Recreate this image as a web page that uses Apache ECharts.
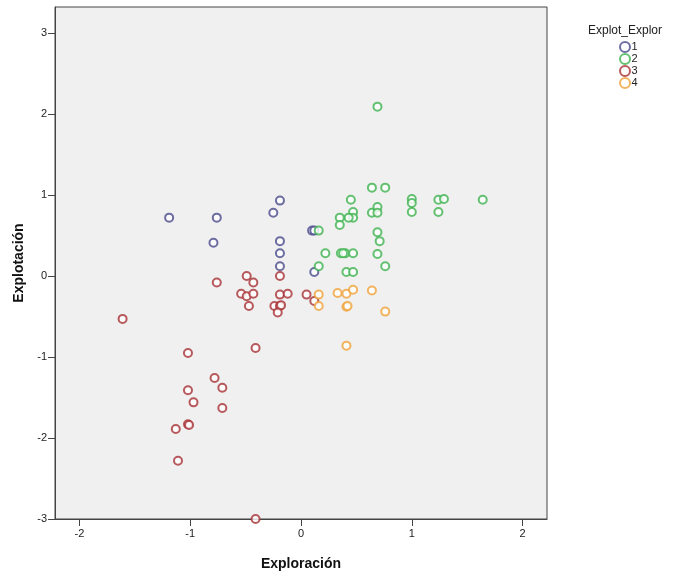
<!DOCTYPE html>
<html>
<head>
<meta charset="utf-8">
<script src="https://cdn.jsdelivr.net/npm/echarts@6/dist/echarts.min.js"></script>
<style>
  html, body { margin: 0; padding: 0; background: #fff; }
  #chart { width: 683px; height: 577px; }
</style>
</head>
<body>
<div id="chart"></div>
<script>
// [Exploración, Explotación] per cluster
const cluster1 = [
  [-1.19, 0.72], [-0.76, 0.72], [-0.79, 0.41], [-0.19, 0.93], [-0.25, 0.78],
  [-0.19, 0.43], [-0.19, 0.28], [-0.19, 0.12], [0.10, 0.56], [0.12, 0.56],
  [0.12, 0.05]
]
const cluster2 = [
  [0.16, 0.56], [0.22, 0.28], [0.16, 0.12], [0.69, 0.54], [0.71, 0.43],
  [0.36, 0.28], [0.40, 0.28], [0.47, 0.28], [0.69, 0.27], [0.76, 0.12],
  [0.41, 0.05], [0.47, 0.05], [0.69, 2.09], [0.64, 1.09], [0.76, 1.09],
  [0.45, 0.94], [1.00, 0.95], [1.00, 0.90], [1.00, 0.79], [1.24, 0.94],
  [1.29, 0.95], [1.24, 0.79], [1.64, 0.94], [0.47, 0.79], [0.47, 0.72],
  [0.43, 0.72], [0.35, 0.72], [0.35, 0.63], [0.64, 0.78], [0.69, 0.85],
  [0.69, 0.78], [0.38, 0.28]
]
const cluster3 = [
  [-0.49, 0.00], [-0.43, -0.08], [-0.76, -0.08], [-0.54, -0.22], [-0.49, -0.25],
  [-0.43, -0.22], [-0.47, -0.37], [-0.19, 0.00], [-0.19, -0.23], [-0.12, -0.22],
  [-0.24, -0.37], [-0.19, -0.37], [-0.18, -0.36], [-0.21, -0.45], [0.05, -0.23],
  [0.12, -0.31], [-1.61, -0.53], [-1.02, -0.95], [-0.41, -0.89], [-0.78, -1.26],
  [-0.71, -1.38], [-1.02, -1.41], [-0.97, -1.56], [-0.71, -1.63], [-1.02, -1.83],
  [-1.01, -1.84], [-1.13, -1.89], [-1.11, -2.28], [-0.41, -3.00]
]
const cluster4 = [
  [0.16, -0.23], [0.16, -0.37], [0.33, -0.21], [0.41, -0.22], [0.47, -0.17],
  [0.64, -0.18], [0.41, -0.38], [0.42, -0.37], [0.76, -0.44], [0.41, -0.86]
]

const clusterNames = ['1', '2', '3', '4']
const clusterColors = ['#4a4a8c', '#3fb34f', '#a83236', '#f0a33a']
const xTicks = [-2, -1, 0, 1, 2]
const yTicks = [-3, -2, -1, 0, 1, 2, 3]

const chart = echarts.init(document.getElementById('chart'))

const tickLabel = { color: '#222', fontSize: 11, fontFamily: 'Liberation Sans, Arial, sans-serif' }
const axisName = { color: '#111', fontSize: 14, fontWeight: 'bold', fontFamily: 'Liberation Sans, Arial, sans-serif' }

const series = [cluster1, cluster2, cluster3, cluster4].map((d, i) => ({
  name: clusterNames[i],
  type: 'scatter',
  data: d,
  symbol: 'emptyCircle',
  symbolSize: 8,
  itemStyle: { color: clusterColors[i], borderColor: clusterColors[i], borderWidth: 1.4 },
  clip: false
}))

chart.setOption({
  animation: false,
  title: {
    text: 'Explot_Explor',
    left: 583,
    top: 20,
    textStyle: { color: '#222', fontSize: 12, fontWeight: 'normal', fontFamily: 'Liberation Sans, Arial, sans-serif' }
  },
  legend: {
    orient: 'vertical',
    left: 619,
    top: 41,
    padding: 0,
    itemWidth: 11,
    itemHeight: 10,
    itemGap: 0,
    textStyle: { color: '#222', fontSize: 11, lineHeight: 10, padding: [0, 0, 0, -4], fontFamily: 'Liberation Sans, Arial, sans-serif' },
    data: clusterNames
  },
  grid: {
    left: 55,
    right: 136,
    top: 7,
    bottom: 58,
    show: true,
    backgroundColor: '#f0f0f0',
    borderColor: '#444',
    borderWidth: 1
  },
  xAxis: {
    type: 'value',
    min: -2.22,
    max: 2.22,
    name: 'Exploración',
    nameLocation: 'middle',
    nameGap: 38,
    nameTextStyle: axisName,
    axisLine: { show: true, onZero: false, lineStyle: { color: '#444' } },
    axisTick: { show: true, length: 7, customValues: xTicks, lineStyle: { color: '#444' } },
    axisLabel: Object.assign({ customValues: xTicks, margin: 9 }, tickLabel),
    splitLine: { show: false }
  },
  yAxis: {
    type: 'value',
    min: -3,
    max: 3.32,
    name: 'Explotación',
    nameLocation: 'middle',
    nameGap: 28,
    nameRotate: 90,
    nameTextStyle: axisName,
    axisLine: { show: true, onZero: false, lineStyle: { color: '#444' } },
    axisTick: { show: true, length: 7, customValues: yTicks, lineStyle: { color: '#444' } },
    axisLabel: Object.assign({ customValues: yTicks, margin: 8 }, tickLabel),
    splitLine: { show: false }
  },
  series
})
</script>
</body>
</html>
